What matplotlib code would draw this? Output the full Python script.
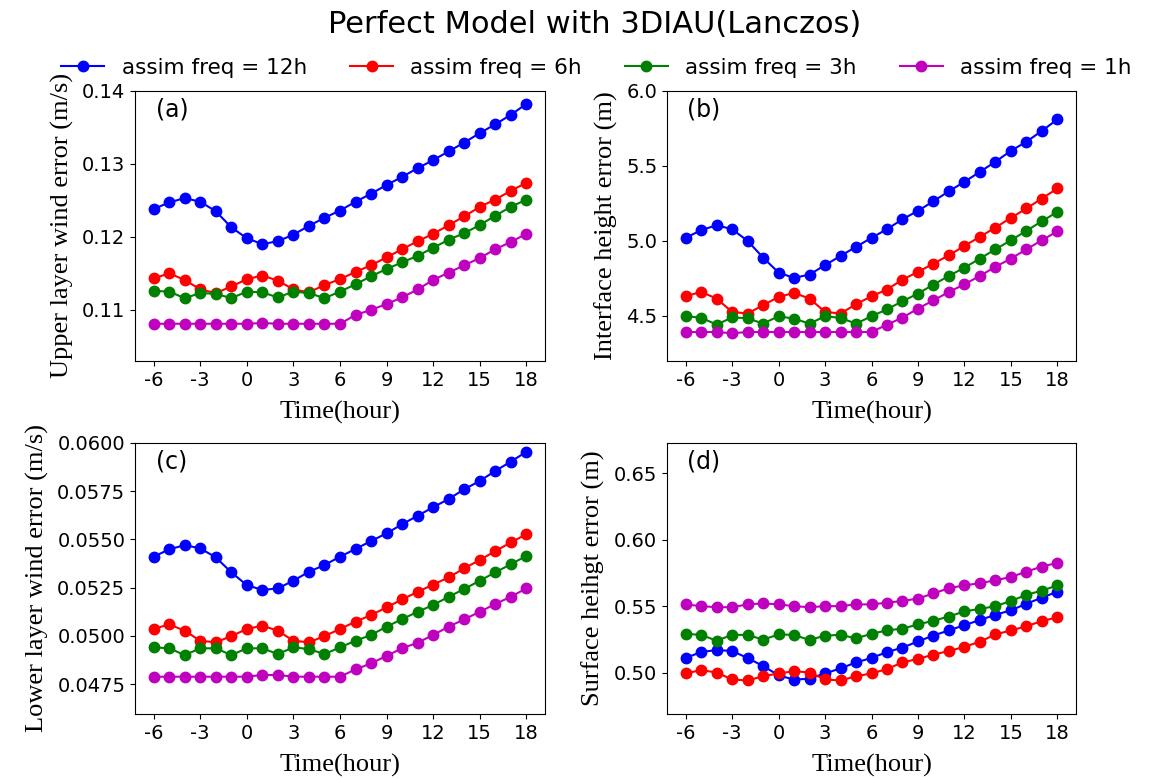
import matplotlib
matplotlib.use("Agg")
import matplotlib.pyplot as plt
import numpy as np

hours = list(range(-6, 19))
series_labels = ["assim freq = 12h", "assim freq = 6h", "assim freq = 3h", "assim freq = 1h"]
series_colors = ["b", "r", "g", "m"]

# (a) Upper layer wind error (m/s)
a_12h = [0.1238, 0.1247, 0.1253, 0.1248, 0.1235, 0.1213, 0.1198, 0.1190, 0.1194, 0.1203,
         0.1215, 0.1226, 0.1236, 0.1248, 0.1259, 0.1271, 0.1282, 0.1294, 0.1305, 0.1317,
         0.1329, 0.1342, 0.1354, 0.1367, 0.1382]
a_6h = [0.1143, 0.1150, 0.1141, 0.1128, 0.1123, 0.1132, 0.1142, 0.1147, 0.1140, 0.1128,
        0.1124, 0.1134, 0.1142, 0.1152, 0.1161, 0.1172, 0.1183, 0.1194, 0.1204, 0.1216,
        0.1228, 0.1241, 0.1251, 0.1263, 0.1274]
a_3h = [0.1126, 0.1125, 0.1116, 0.1123, 0.1122, 0.1116, 0.1125, 0.1124, 0.1117, 0.1125,
        0.1123, 0.1116, 0.1125, 0.1135, 0.1146, 0.1156, 0.1165, 0.1174, 0.1185, 0.1196,
        0.1205, 0.1216, 0.1229, 0.1241, 0.1251]
a_1h = [0.1081, 0.1081, 0.1081, 0.1081, 0.1081, 0.1081, 0.1081, 0.1082, 0.1081, 0.1081,
        0.1081, 0.1081, 0.1081, 0.1093, 0.1100, 0.1108, 0.1117, 0.1128, 0.1141, 0.1151,
        0.1161, 0.1171, 0.1183, 0.1193, 0.1204]

# (b) Interface height error (m)
b_12h = [5.020, 5.071, 5.104, 5.078, 5.000, 4.889, 4.789, 4.753, 4.776, 4.838,
         4.900, 4.960, 5.020, 5.078, 5.144, 5.200, 5.264, 5.331, 5.393, 5.460,
         5.527, 5.600, 5.660, 5.733, 5.809]
b_6h = [4.631, 4.660, 4.616, 4.527, 4.516, 4.571, 4.627, 4.653, 4.616, 4.527,
        4.516, 4.578, 4.631, 4.676, 4.742, 4.793, 4.849, 4.904, 4.967, 5.027,
        5.089, 5.153, 5.216, 5.282, 5.349]
b_3h = [4.498, 4.489, 4.442, 4.490, 4.485, 4.449, 4.498, 4.482, 4.449, 4.498,
        4.487, 4.449, 4.498, 4.544, 4.598, 4.649, 4.709, 4.767, 4.822, 4.882,
        4.944, 5.004, 5.067, 5.131, 5.193]
b_1h = [4.393, 4.393, 4.393, 4.385, 4.393, 4.393, 4.393, 4.393, 4.393, 4.393,
        4.393, 4.393, 4.393, 4.442, 4.489, 4.549, 4.604, 4.660, 4.711, 4.767,
        4.827, 4.882, 4.944, 5.004, 5.064]

# (c) Lower layer wind error (m/s)
c_12h = [0.05410, 0.05448, 0.05470, 0.05453, 0.05407, 0.05329, 0.05263, 0.05238, 0.05246, 0.05286,
         0.05332, 0.05367, 0.05410, 0.05450, 0.05491, 0.05531, 0.05578, 0.05622, 0.05666, 0.05709,
         0.05759, 0.05802, 0.05854, 0.05902, 0.05953]
c_6h = [0.05036, 0.05060, 0.05027, 0.04975, 0.04967, 0.04999, 0.05036, 0.05053, 0.05027, 0.04975,
        0.04967, 0.04999, 0.05036, 0.05074, 0.05108, 0.05148, 0.05189, 0.05228, 0.05266, 0.05303,
        0.05350, 0.05393, 0.05439, 0.05484, 0.05526]
c_3h = [0.04941, 0.04936, 0.04901, 0.04936, 0.04936, 0.04901, 0.04936, 0.04936, 0.04906, 0.04941,
        0.04932, 0.04906, 0.04941, 0.04975, 0.05005, 0.05048, 0.05087, 0.05125, 0.05160, 0.05203,
        0.05243, 0.05286, 0.05329, 0.05371, 0.05414]
c_1h = [0.04789, 0.04789, 0.04789, 0.04789, 0.04789, 0.04789, 0.04789, 0.04798, 0.04798, 0.04789,
        0.04789, 0.04789, 0.04789, 0.04827, 0.04858, 0.04897, 0.04936, 0.04965, 0.05005, 0.05048,
        0.05086, 0.05125, 0.05165, 0.05203, 0.05246]

# (d) Surface height error (m)
d_12h = [0.5111, 0.5156, 0.5171, 0.5164, 0.5111, 0.5051, 0.4981, 0.4948, 0.4956, 0.4995,
         0.5033, 0.5078, 0.5111, 0.5156, 0.5189, 0.5236, 0.5280, 0.5319, 0.5358, 0.5397,
         0.5436, 0.5470, 0.5519, 0.5565, 0.5610]
d_6h = [0.4995, 0.5020, 0.5002, 0.4950, 0.4942, 0.4974, 0.4995, 0.5012, 0.5002, 0.4950,
        0.4942, 0.4974, 0.4995, 0.5028, 0.5078, 0.5104, 0.5137, 0.5164, 0.5195, 0.5234,
        0.5288, 0.5319, 0.5350, 0.5389, 0.5417]
d_3h = [0.5293, 0.5285, 0.5241, 0.5285, 0.5285, 0.5249, 0.5288, 0.5285, 0.5246, 0.5280,
        0.5285, 0.5259, 0.5293, 0.5319, 0.5332, 0.5363, 0.5392, 0.5423, 0.5462, 0.5480,
        0.5501, 0.5540, 0.5586, 0.5618, 0.5657]
d_1h = [0.5514, 0.5501, 0.5493, 0.5493, 0.5514, 0.5522, 0.5514, 0.5501, 0.5493, 0.5501,
        0.5501, 0.5514, 0.5514, 0.5527, 0.5540, 0.5558, 0.5597, 0.5636, 0.5657, 0.5674,
        0.5695, 0.5721, 0.5760, 0.5799, 0.5826]

panel_tags = ["(a)", "(b)", "(c)", "(d)"]
ylabels = ["Upper layer wind error (m/s)", "Interface height error (m)",
           "Lower layer wind error (m/s)", "Surface heihgt error (m)"]
xticks = [-6, -3, 0, 3, 6, 9, 12, 15, 18]
yticks_a = [0.11, 0.12, 0.13, 0.14]
yticks_b = [4.5, 5.0, 5.5, 6.0]
yticks_c = [0.0475, 0.0500, 0.0525, 0.0550, 0.0575, 0.0600]
yticks_d = [0.50, 0.55, 0.60, 0.65]

panels = [
    ([a_12h, a_6h, a_3h, a_1h], yticks_a, (0.1030, 0.1400), "%.2f"),
    ([b_12h, b_6h, b_3h, b_1h], yticks_b, (4.20, 6.00), "%.1f"),
    ([c_12h, c_6h, c_3h, c_1h], yticks_c, (0.04596, 0.0600), "%.4f"),
    ([d_12h, d_6h, d_3h, d_1h], yticks_d, (0.469, 0.673), "%.2f"),
]

W, H = 1156, 780
fig = plt.figure(figsize=(W / 100, H / 100), dpi=100)
rects = [
    (135 / W, 1 - 361 / H, 410 / W, 270.3 / H),
    (667 / W, 1 - 361 / H, 409 / W, 270.3 / H),
    (135 / W, 1 - 714 / H, 410 / W, 271.3 / H),
    (667 / W, 1 - 714 / H, 409 / W, 271.3 / H),
]
serif = ["Liberation Serif", "DejaVu Serif"]
handles = []
for i, (series, yt, ylim, fmt) in enumerate(panels):
    ax = fig.add_axes(rects[i])
    for s, col, lab in zip(series, series_colors, series_labels):
        h, = ax.plot(hours, s, "-o", color=col, label=lab, markersize=7.5, linewidth=1.5)
        if i == 0:
            handles.append(h)
    ax.set_xticks(xticks)
    ax.set_xticklabels([str(t) for t in xticks])
    ax.set_yticks(yt)
    ax.set_yticklabels([fmt % v for v in yt])
    ax.set_ylim(*ylim)
    ax.set_xlim(-7.2, 19.2)
    ax.tick_params(labelsize=14)
    ax.set_xlabel("Time(hour)", fontsize=19, family=serif, labelpad=8)
    ax.set_ylabel(ylabels[i], fontsize=19, family=serif, labelpad=6)
    ax.text(0.05, 0.932, panel_tags[i], transform=ax.transAxes, fontsize=17,
            ha="left", va="center")

fig.text(0.514, 1 - 33 / H, "Perfect Model with 3DIAU(Lanczos)", fontsize=22,
         ha="center", va="baseline")
fig.legend(handles=handles, labels=series_labels, loc="center", ncol=4,
           bbox_to_anchor=(0.516, 1 - 68 / H), frameon=False, fontsize=15.5,
           handlelength=2.0, columnspacing=2.0, handletextpad=0.8)
fig.savefig("out.png", dpi=100)
